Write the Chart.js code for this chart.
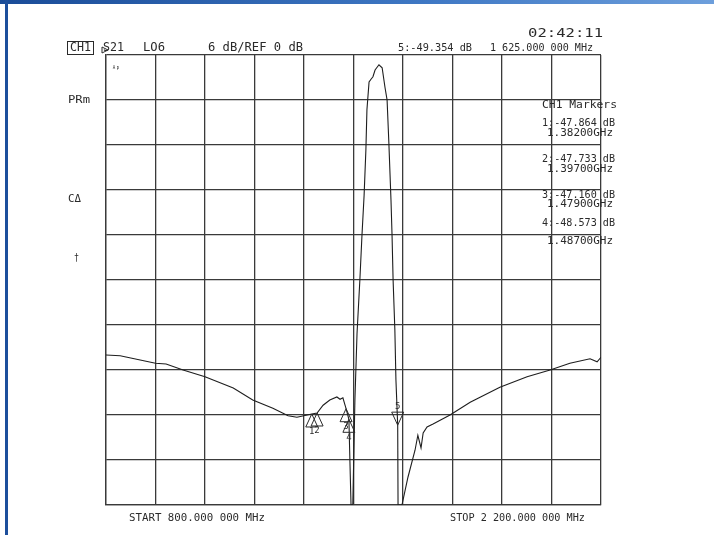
<!DOCTYPE html>
<html>
<head>
<meta charset="utf-8">
<script src="https://cdn.jsdelivr.net/npm/chart.js@4/dist/chart.umd.min.js"></script>
<style>
  html, body { margin: 0; padding: 0; background: #fff; }
  #wrap { position: relative; width: 714px; height: 535px; overflow: hidden; background: #fff; }
  #topbar { position: absolute; left: 0; top: 0; width: 714px; height: 4px;
            background: linear-gradient(to right, #1a4c98, #3f78c4 60%, #6d9fdc); }
  #leftbar { position: absolute; left: 5px; top: 0; width: 3px; height: 535px; background: #1d4f9c; }
  #myViz { position: absolute; left: 0; top: 0; }
</style>
</head>
<body>
<div id="wrap">
  <div id="topbar"></div>
  <div id="leftbar"></div>
  <canvas id="myViz" width="714" height="535"></canvas>
</div>
<script>
// S21 trace (MHz, dB)
const freqMHz = [
  800, 840, 880, 940, 970, 1018, 1080, 1160, 1215, 1272, 1315, 1340,
  1382, 1397, 1414, 1433, 1453, 1462, 1470, 1479, 1487, 1490, 1493,
  1498, 1504, 1510, 1518, 1524, 1530, 1535, 1538, 1544, 1550, 1555,
  1561, 1572, 1581, 1589, 1595, 1600, 1606, 1609, 1612, 1617, 1620,
  1625, 1626, 1637, 1654, 1674, 1682, 1691, 1697, 1708, 1725, 1773,
  1830, 1914, 1991, 2056, 2112, 2169, 2189, 2200
];
const s21dB = [
  -40.0, -40.1, -40.5, -41.1, -41.2, -42.0, -42.9, -44.4, -46.0, -47.1, -48.1, -48.3,
  -47.86, -47.73, -46.7, -46.0, -45.6, -45.9, -45.7, -47.16, -48.57, -54.4, -60.0,
  -60.0, -46.0, -37.1, -30.0, -24.0, -18.7, -12.7, -7.3, -3.6, -3.2, -2.9,
  -2.0, -1.3, -1.7, -4.3, -6.0, -11.7, -19.3, -24.0, -30.0, -36.7, -43.3,
  -49.35, -60.0, -60.0, -56.3, -52.7, -50.7, -52.4, -50.4, -49.6, -49.2, -48.0,
  -46.3, -44.3, -42.9, -42.0, -41.1, -40.5, -40.9, -40.3
];

// markers
const markerNum = [1, 2, 3, 4, 5];
const markerMHz = [1382, 1397, 1479, 1487, 1625];
const markerdB = [-47.864, -47.733, -47.160, -48.573, -49.354];

// 10 divisions each way: 140 MHz/div, 6 dB/div, REF 0 dB on top
const xTicks = [800, 940, 1080, 1220, 1360, 1500, 1640, 1780, 1920, 2060, 2200];
const yTicks = [-60, -54, -48, -42, -36, -30, -24, -18, -12, -6, 0];

const INK = '#2a2a2a';
const FONT = '"DejaVu Sans Mono", "Liberation Mono", monospace';

// draws a string squeezed / stretched to a given width
const fitText = (ctx, s, x, y, w, size) => {
  ctx.font = size + 'px ' + FONT;
  const m = ctx.measureText(s).width;
  ctx.save();
  ctx.translate(x, y);
  ctx.scale(w / m, 1);
  ctx.fillText(s, 0, 0);
  ctx.restore();
};

const analyzerText = {
  id: 'analyzerText',
  afterDatasetsDraw(chart) {
    const { ctx, chartArea, scales } = chart;
    const xs = scales.x, ys = scales.y;
    ctx.save();
    ctx.fillStyle = INK;
    ctx.strokeStyle = INK;
    ctx.textBaseline = 'middle';
    ctx.textAlign = 'left';

    // marker symbols
    ctx.lineWidth = 1;
    markerNum.forEach((n, i) => {
      const px = xs.getPixelForValue(markerMHz[i]);
      const py = ys.getPixelForValue(markerdB[i]);
      ctx.beginPath();
      if (n === 5) {
        ctx.moveTo(px, py);
        ctx.lineTo(px - 6, py - 13);
        ctx.lineTo(px + 6, py - 13);
      } else {
        ctx.moveTo(px, py);
        ctx.lineTo(px - 6, py + 13);
        ctx.lineTo(px + 6, py + 13);
      }
      ctx.closePath();
      ctx.stroke();
      ctx.font = '9px ' + FONT;
      ctx.textAlign = 'center';
      ctx.fillText(String(n), px, n === 5 ? py - 18 : py + 18);
      ctx.textAlign = 'left';
    });

    // reference level pointer
    const ry = ys.getPixelForValue(0);
    ctx.beginPath();
    ctx.moveTo(chartArea.left - 4, ry - 8);
    ctx.lineTo(chartArea.left + 2, ry - 5);
    ctx.lineTo(chartArea.left - 4, ry - 2);
    ctx.closePath();
    ctx.stroke();

    // header
    fitText(ctx, '02:42:11', 528, 34, 75, 13);
    ctx.lineWidth = 1;
    ctx.strokeRect(67.5, 41.5, 26, 13);
    fitText(ctx, 'CH1', 70, 48, 21, 12);
    fitText(ctx, 'S21', 103, 48, 21, 12);
    fitText(ctx, 'LO6', 143, 48, 22, 12);
    fitText(ctx, '6 dB/REF 0 dB', 208, 48, 95, 12);
    fitText(ctx, '5:' + markerdB[4].toFixed(3) + ' dB', 398, 48, 74, 11);
    fitText(ctx, '1 625.000 000 MHz', 490, 48, 103, 11);

    // softkey side labels
    fitText(ctx, 'PRm', 68, 100, 22, 11);
    fitText(ctx, 'C\u0394', 68, 199, 13, 11);
    fitText(ctx, '\u2020', 74, 258, 5, 10);
    fitText(ctx, '\u1D2C\u1D56', 112, 70, 8, 9);

    // marker table
    fitText(ctx, 'CH1 Markers', 542, 105, 75, 11);
    const rowDb = [123, 159, 195, 223];
    const rowHz = [133, 169, 204, 241];
    for (let i = 0; i < 4; i++) {
      fitText(ctx, markerNum[i] + ':' + markerdB[i].toFixed(3) + ' dB', 542, rowDb[i], 73, 10);
      fitText(ctx, (markerMHz[i] / 1000).toFixed(5) + 'GHz', 547, rowHz[i], 66, 10);
    }

    // start / stop
    fitText(ctx, 'START 800.000 000 MHz', 129, 518, 136, 10);
    fitText(ctx, 'STOP 2 200.000 000 MHz', 450, 518, 135, 10);
    ctx.restore();
  }
};

const ctx = document.getElementById('myViz').getContext('2d');
new Chart(ctx, {
  type: 'line',
  data: {
    datasets: [{
      data: freqMHz.map((f, i) => ({ x: f, y: s21dB[i] })),
      borderColor: '#1e1e1e',
      borderWidth: 1.1,
      pointRadius: 0,
      tension: 0,
      fill: false
    }]
  },
  options: {
    responsive: false,
    animation: false,
    events: [],
    layout: { padding: { left: 106, right: 113, top: 55, bottom: 30 } },
    plugins: { legend: { display: false }, tooltip: { enabled: false } },
    scales: {
      x: {
        type: 'linear',
        min: xTicks[0],
        max: xTicks[xTicks.length - 1],
        afterBuildTicks: (s) => { s.ticks = xTicks.map(v => ({ value: v })); },
        ticks: { display: false },
        grid: { color: '#3a3a3a', lineWidth: 1.3, drawTicks: false },
        border: { color: '#3a3a3a', width: 1.3 }
      },
      y: {
        type: 'linear',
        min: yTicks[0],
        max: yTicks[yTicks.length - 1],
        afterBuildTicks: (s) => { s.ticks = yTicks.map(v => ({ value: v })); },
        ticks: { display: false },
        grid: { color: '#3a3a3a', lineWidth: 1.3, drawTicks: false },
        border: { color: '#3a3a3a', width: 1.3 }
      }
    }
  },
  plugins: [analyzerText]
});
</script>
</body>
</html>
